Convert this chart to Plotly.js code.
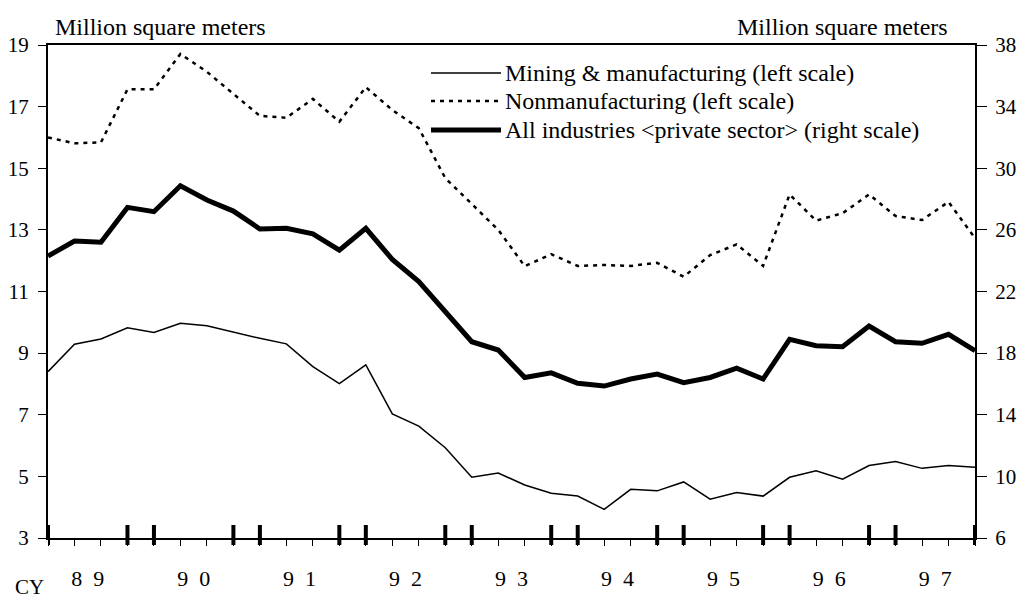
<!DOCTYPE html>
<html>
<head>
<meta charset="utf-8">
<script src="https://cdn.plot.ly/plotly-3.0.1.min.js"></script>
<style>html,body{margin:0;padding:0;background:#fff;}#chart{width:1020px;height:600px;}</style>
</head>
<body>
<div id="chart"></div>
<script>
// Calendar years covered (quarterly data, Q1 1989 - Q4 1997)
var years = [1989, 1990, 1991, 1992, 1993, 1994, 1995, 1996, 1997];
var yearLabels = ['8 9', '9 0', '9 1', '9 2', '9 3', '9 4', '9 5', '9 6', '9 7'];
var quarterNames = ['Q1', 'Q2', 'Q3', 'Q4'];

// Mining & manufacturing (left scale, million square meters)
var mining = [8.40, 9.29, 9.46, 9.82, 9.67, 9.97, 9.89, 9.68, 9.48, 9.30, 8.56, 8.01,
              8.62, 7.03, 6.63, 5.93, 4.97, 5.11, 4.72, 4.45, 4.36, 3.93, 4.58, 4.53,
              4.82, 4.26, 4.48, 4.36, 4.97, 5.18, 4.91, 5.35, 5.48, 5.26, 5.35, 5.30];

// Nonmanufacturing (left scale, million square meters)
var nonmfg = [16.00, 15.81, 15.84, 17.56, 17.56, 18.71, 18.13, 17.43, 16.70, 16.64, 17.25, 16.51,
              17.63, 16.89, 16.30, 14.68, 13.85, 13.00, 11.82, 12.21, 11.83, 11.86, 11.83, 11.93,
              11.48, 12.18, 12.53, 11.83, 14.15, 13.30, 13.54, 14.15, 13.45, 13.32, 13.91, 12.73];

// All industries <private sector> (right scale, million square meters)
var allInd = [24.30, 25.28, 25.20, 27.46, 27.18, 28.86, 27.94, 27.22, 26.06, 26.10, 25.74, 24.68,
              26.10, 24.08, 22.64, 20.74, 18.74, 18.20, 16.42, 16.72, 16.04, 15.86, 16.32, 16.64,
              16.08, 16.42, 17.02, 16.32, 18.90, 18.48, 18.42, 19.76, 18.74, 18.64, 19.22, 18.16];

var seriesNames = ['Mining & manufacturing (left scale)',
                   'Nonmanufacturing (left scale)',
                   'All industries <private sector> (right scale)'];

var unitLabel = 'Million square meters';
var leftTicks = [3, 5, 7, 9, 11, 13, 15, 17, 19];
var rightTicks = [6, 10, 14, 18, 22, 26, 30, 34, 38];

// ---- build ----
var quarters = [];
years.forEach(function (y) { quarterNames.forEach(function (q) { quarters.push(y + q); }); });
var xi = quarters.map(function (_, i) { return i; });
var yearCenters = years.map(function (_, k) { return 4 * k + 1.5; });
// widen the gap between the two digits as in the original typesetting
var yearTickText = yearLabels.map(function (s) { return s.replace(' ', '\u00a0\u00a0'); });

var FONT = '"Liberation Serif", "Times New Roman", serif';
var styles = [
  {color: '#000', width: 1.5, dash: 'solid'},
  {color: '#000', width: 2.5, dash: '4px,5px'},
  {color: '#000', width: 5, dash: 'solid'}
];

var traces = [
  {x: xi, y: mining, type: 'scatter', mode: 'lines', name: seriesNames[0], line: styles[0], yaxis: 'y', showlegend: false, hoverinfo: 'skip'},
  {x: xi, y: nonmfg, type: 'scatter', mode: 'lines', name: seriesNames[1], line: styles[1], yaxis: 'y', showlegend: false, hoverinfo: 'skip'},
  {x: xi, y: allInd, type: 'scatter', mode: 'lines', name: seriesNames[2], line: styles[2], yaxis: 'y2', showlegend: false, hoverinfo: 'skip'}
];

var W = 1020, H = 600, mL = 48, mR = 45, mT = 45, mB = 62;
var pw = W - mL - mR, ph = H - mT - mB;
function px2x(p) { return (p - mL) / pw; }
function px2y(p) { return (H - mB - p) / ph; }

var shapes = [];
// thick year-boundary marks (Q4 and Q1 of each year)
quarters.forEach(function (q, i) {
  if (i % 4 === 0 || i % 4 === 3) {
    shapes.push({type: 'line', xref: 'x', yref: 'paper', x0: i, x1: i,
      y0: -7 / ph, y1: 13 / ph, line: {color: '#000', width: 4}});
  }
});

var TXT = 24;
var annotations = [];
// legend (custom, to match long sample lines)
var legRows = [73, 101, 130];
seriesNames.forEach(function (n, k) {
  shapes.push({type: 'line', xref: 'paper', yref: 'paper',
    x0: px2x(431), x1: px2x(501), y0: px2y(legRows[k]), y1: px2y(legRows[k]),
    line: styles[k]});
  annotations.push({xref: 'paper', yref: 'paper', x: px2x(503), y: px2y(legRows[k]),
    xanchor: 'left', yanchor: 'middle', showarrow: false, text: n.replace(/</g, '&lt;').replace(/>/g, '&gt;'),
    font: {family: FONT, size: TXT, color: '#000'}});
});
annotations.push({xref: 'paper', yref: 'paper', x: px2x(160), y: px2y(27), xanchor: 'center', yanchor: 'middle',
  showarrow: false, text: unitLabel, font: {family: FONT, size: TXT, color: '#000'}});
annotations.push({xref: 'paper', yref: 'paper', x: px2x(842), y: px2y(27), xanchor: 'center', yanchor: 'middle',
  showarrow: false, text: unitLabel, font: {family: FONT, size: TXT, color: '#000'}});
annotations.push({xref: 'paper', yref: 'paper', x: px2x(29), y: px2y(587), xanchor: 'center', yanchor: 'middle',
  showarrow: false, text: 'CY', font: {family: FONT, size: 21, color: '#000'}});

var layout = {
  width: W, height: H,
  margin: {l: mL, r: mR, t: mT, b: mB, pad: 0},
  paper_bgcolor: '#fff', plot_bgcolor: '#fff',
  font: {family: FONT, size: 21, color: '#000'},
  showlegend: false,
  xaxis: {
    range: [0, 35], tickmode: 'array', tickvals: yearCenters, ticktext: yearTickText,
    ticks: '', showgrid: false, zeroline: false,
    showline: true, linecolor: '#000', linewidth: 2, mirror: true,
    ticklabelstandoff: 20,
    tickfont: {family: FONT, size: 22, color: '#000'},
    minor: {tickmode: 'array', tickvals: xi, ticks: 'outside', ticklen: 6, tickwidth: 1, tickcolor: '#000', showgrid: false}
  },
  yaxis: {
    range: [3, 19], tickmode: 'array', tickvals: leftTicks,
    ticks: 'outside', ticklen: 8, tickwidth: 1, tickcolor: '#000',
    showgrid: false, zeroline: false, showline: true, linecolor: '#000', linewidth: 2,
    ticklabelstandoff: 5,
    tickfont: {family: FONT, size: 21, color: '#000'}
  },
  yaxis2: {
    range: [6, 38], tickmode: 'array', tickvals: rightTicks, overlaying: 'y', side: 'right',
    ticks: 'outside', ticklen: 10, tickwidth: 1, tickcolor: '#000',
    showgrid: false, zeroline: false, showline: true, linecolor: '#000', linewidth: 2,
    ticklabelstandoff: 4,
    tickfont: {family: FONT, size: 21, color: '#000'}
  },
  shapes: shapes,
  annotations: annotations
};

Plotly.newPlot('chart', traces, layout, {displayModeBar: false, staticPlot: true});
</script>
</body>
</html>
